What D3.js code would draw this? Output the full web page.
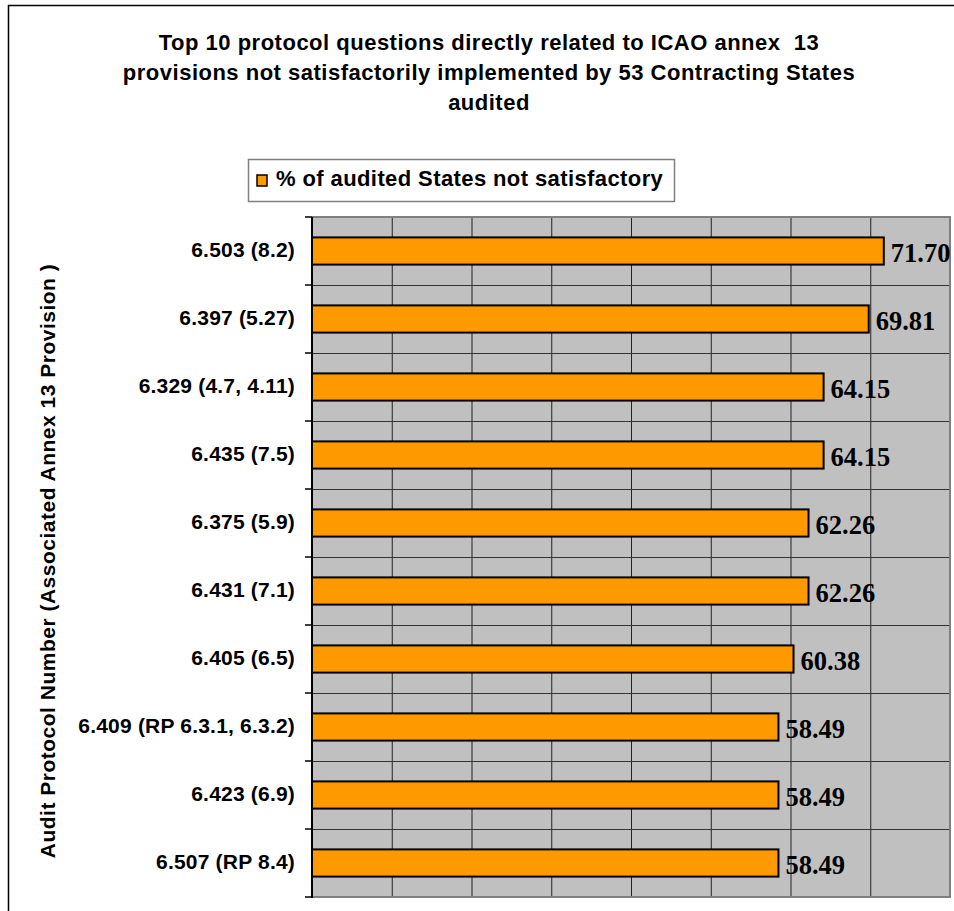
<!DOCTYPE html>
<html>
<head>
<meta charset="utf-8">
<script src="https://cdn.jsdelivr.net/npm/d3@7"></script>
<style>
  html, body { margin: 0; padding: 0; background: #fff; }
  svg { display: block; }
</style>
</head>
<body>
<svg id="chart" width="954" height="911"></svg>
<script>
// ---- data ----
const categories = [
  "6.503 (8.2)",
  "6.397 (5.27)",
  "6.329 (4.7, 4.11)",
  "6.435 (7.5)",
  "6.375 (5.9)",
  "6.431 (7.1)",
  "6.405 (6.5)",
  "6.409 (RP 6.3.1, 6.3.2)",
  "6.423 (6.9)",
  "6.507 (RP 8.4)"
];
const values = [71.70, 69.81, 64.15, 64.15, 62.26, 62.26, 60.38, 58.49, 58.49, 58.49];
const valueLabels = ["71.70", "69.81", "64.15", "64.15", "62.26", "62.26", "60.38", "58.49", "58.49", "58.49"];
const xTicks = [0, 10, 20, 30, 40, 50, 60, 70, 80];
const titleLines = [
  "Top 10 protocol questions directly related to ICAO annex  13",
  "provisions not satisfactorily implemented by 53 Contracting States",
  "audited"
];
const seriesName = "% of audited States not satisfactory";
const yAxisTitle = "Audit Protocol Number (Associated Annex 13 Provision )";

// ---- layout ----
const svg = d3.select("#chart");
const plot = { left: 312, right: 950, top: 217, bottom: 897 };
const sans = "'Liberation Sans', Arial, sans-serif";
const serif = "'Liberation Serif', 'Times New Roman', serif";

// outer chart border
svg.append("rect")
  .attr("x", 8.5).attr("y", 5.5)
  .attr("width", 1000).attr("height", 1000)
  .attr("fill", "none").attr("stroke", "#000").attr("stroke-width", 1.5);

const x = d3.scaleLinear().domain([0, 80]).range([plot.left, plot.right]);
const y = d3.scaleBand().domain(categories).range([plot.top, plot.bottom])
  .paddingInner(0.6).paddingOuter(0.3);

// plot background
svg.append("rect")
  .attr("x", plot.left).attr("y", plot.top)
  .attr("width", plot.right - plot.left).attr("height", plot.bottom - plot.top)
  .attr("fill", "#c0c0c0");

// vertical gridlines
svg.append("g").selectAll("line")
  .data(xTicks.slice(1, -1)).join("line")
  .attr("x1", d => x(d) + 0.5).attr("x2", d => x(d) + 0.5)
  .attr("y1", plot.top).attr("y2", plot.bottom)
  .attr("stroke", "#222").attr("stroke-width", 1);

// horizontal gridlines at category boundaries
const boundaries = d3.range(categories.length + 1).map(i => plot.top + i * y.step());
svg.append("g").selectAll("line")
  .data(boundaries.slice(1, -1)).join("line")
  .attr("x1", plot.left).attr("x2", plot.right)
  .attr("y1", d => d + 0.5).attr("y2", d => d + 0.5)
  .attr("stroke", "#333").attr("stroke-width", 1);

// plot border (gray) top/right/bottom
svg.append("path")
  .attr("d", `M${plot.left},${plot.top}H${plot.right}V${plot.bottom}H${plot.left}`)
  .attr("fill", "none").attr("stroke", "#808080").attr("stroke-width", 2);

// bars
svg.append("g").selectAll("rect")
  .data(values).join("rect")
  .attr("x", x(0))
  .attr("y", (d, i) => y(categories[i]))
  .attr("width", d => x(d) - x(0))
  .attr("height", y.bandwidth())
  .attr("fill", "#ff9900")
  .attr("stroke", "#000").attr("stroke-width", 2);

// value labels
svg.append("g").selectAll("text")
  .data(values).join("text")
  .attr("x", d => x(d) + 7)
  .attr("y", (d, i) => y(categories[i]) + y.bandwidth() / 2 + 11)
  .attr("font-family", serif).attr("font-weight", "bold")
  .attr("font-size", 26.5).attr("fill", "#000")
  .text((d, i) => valueLabels[i]);

// y axis: line + boundary ticks
const axisG = svg.append("g");
axisG.append("line")
  .attr("x1", plot.left).attr("x2", plot.left)
  .attr("y1", plot.top).attr("y2", plot.bottom + 1)
  .attr("stroke", "#000").attr("stroke-width", 2);
axisG.selectAll("line.tick")
  .data(boundaries).join("line").attr("class", "tick")
  .attr("x1", plot.left - 7).attr("x2", plot.left)
  .attr("y1", d => d).attr("y2", d => d)
  .attr("stroke", "#000").attr("stroke-width", 1.5);

// category labels via d3 axis
const yAxis = d3.axisLeft(y).tickSize(0).tickPadding(17);
const yg = svg.append("g").attr("transform", `translate(${plot.left},0)`).call(yAxis);
yg.select(".domain").remove();
yg.selectAll("text")
  .attr("font-family", sans).attr("font-weight", "bold")
  .attr("font-size", 21).attr("letter-spacing", 0.2)
  .attr("fill", "#000")
  .attr("dy", null).attr("dominant-baseline", "auto")
  .attr("y", 6);

// y axis title
svg.append("text")
  .attr("transform", `translate(55,${561}) rotate(-90)`)
  .attr("text-anchor", "middle")
  .attr("font-family", sans).attr("font-weight", "bold")
  .attr("font-size", 21).attr("letter-spacing", 0.5)
  .attr("fill", "#000")
  .text(yAxisTitle);

// title
svg.append("g").selectAll("text")
  .data(titleLines).join("text")
  .attr("x", 489).attr("y", (d, i) => 50 + i * 30)
  .attr("text-anchor", "middle")
  .attr("font-family", sans).attr("font-weight", "bold")
  .attr("font-size", 22).attr("letter-spacing", 0.5)
  .attr("fill", "#000")
  .attr("xml:space", "preserve").style("white-space", "pre")
  .text(d => d);

// legend
const lg = svg.append("g");
lg.append("rect")
  .attr("x", 248.5).attr("y", 159.5).attr("width", 426).attr("height", 42)
  .attr("fill", "#fff").attr("stroke", "#808080").attr("stroke-width", 1.5);
lg.append("rect")
  .attr("x", 257).attr("y", 175).attr("width", 10).attr("height", 11)
  .attr("fill", "#ff9900").attr("stroke", "#000").attr("stroke-width", 1.5);
lg.append("text")
  .attr("x", 276).attr("y", 186)
  .attr("font-family", sans).attr("font-weight", "bold")
  .attr("font-size", 22).attr("letter-spacing", 0.4)
  .attr("fill", "#000")
  .text(seriesName);
</script>
</body>
</html>
